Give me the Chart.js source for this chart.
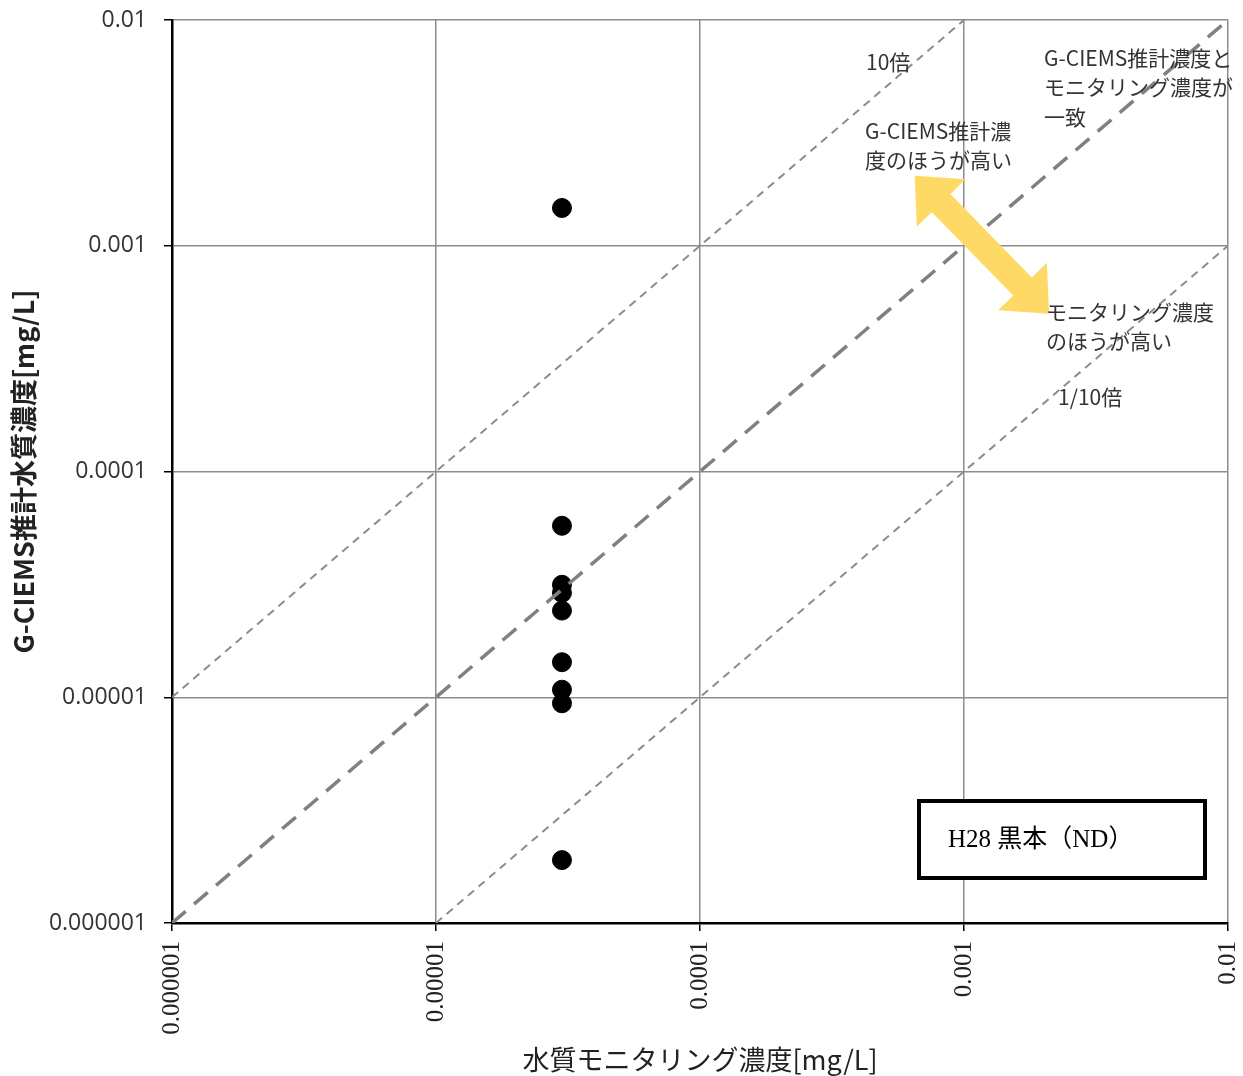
<!DOCTYPE html>
<html>
<head>
<meta charset="utf-8">
<script src="https://cdn.jsdelivr.net/npm/chart.js@4/dist/chart.umd.min.js"></script>
<style>
  html, body { margin: 0; padding: 0; background: #fff; }
  #wrap { width: 1243px; height: 1076px; }
</style>
</head>
<body>
<div id="wrap"><canvas id="chart" width="1243" height="1076"></canvas></div>
<script>
// measured values (mg/L)
const monitorConc = [3e-5, 3e-5, 3e-5, 3e-5, 3e-5, 3e-5, 3e-5, 3e-5, 3e-5];
const gciemsConc = [1.47e-3, 5.75e-5, 3.15e-5, 2.9e-5, 2.42e-5, 1.43e-5, 1.08e-5, 9.4e-6, 1.9e-6];

const tickValues = [1e-6, 1e-5, 1e-4, 1e-3, 1e-2];
const tickLabels = ['0.000001', '0.00001', '0.0001', '0.001', '0.01'];

// reference lines: y = 10x, y = x, y = x/10
const line10x = [{ x: 1e-6, y: 1e-5 }, { x: 1e-3, y: 1e-2 }];
const line1x = [{ x: 1e-6, y: 1e-6 }, { x: 1e-2, y: 1e-2 }];
const line01x = [{ x: 1e-5, y: 1e-6 }, { x: 1e-2, y: 1e-3 }];

// double arrow ends (data coords)
const arrowEnds = [{ x: 6.5e-4, y: 2.04e-3 }, { x: 2.1e-3, y: 5.0e-4 }];

const points = monitorConc.map((x, i) => ({ x: x, y: gciemsConc[i] }));

const jpFont = '"Noto Sans CJK JP", "Noto Sans", sans-serif';

const decadeTicks = (scale) => {
    scale.ticks = tickValues.map(v => ({ value: v }));
};
const tickText = (value) => {
    const i = tickValues.findIndex(v => Math.abs(v - value) / v < 1e-6);
    return i >= 0 ? tickLabels[i] : '';
};

const annotations = {
    id: 'annotations',
    afterDatasetsDraw(chart) {
        const ctx = chart.ctx;
        const xs = chart.scales.x, ys = chart.scales.y;

        // yellow double arrow
        const p1 = { x: xs.getPixelForValue(arrowEnds[0].x), y: ys.getPixelForValue(arrowEnds[0].y) };
        const p2 = { x: xs.getPixelForValue(arrowEnds[1].x), y: ys.getPixelForValue(arrowEnds[1].y) };
        const dx = p2.x - p1.x, dy = p2.y - p1.y;
        const len = Math.sqrt(dx * dx + dy * dy);
        const ux = dx / len, uy = dy / len;
        const nx = -uy, ny = ux;
        const headLen = 38, headW = 34, shaftW = 13;
        const pt = (base, a, b) => [base.x + ux * a + nx * b, base.y + uy * a + ny * b];
        const poly = [
            pt(p1, 0, 0),
            pt(p1, headLen, headW),
            pt(p1, headLen, shaftW),
            pt(p2, -headLen, shaftW),
            pt(p2, -headLen, headW),
            pt(p2, 0, 0),
            pt(p2, -headLen, -headW),
            pt(p2, -headLen, -shaftW),
            pt(p1, headLen, -shaftW),
            pt(p1, headLen, -headW)
        ];
        ctx.save();
        ctx.beginPath();
        poly.forEach((p, i) => i ? ctx.lineTo(p[0], p[1]) : ctx.moveTo(p[0], p[1]));
        ctx.closePath();
        ctx.fillStyle = '#FFD966';
        ctx.fill();

        // texts
        ctx.fillStyle = '#333';
        ctx.font = '21px ' + jpFont;
        ctx.textBaseline = 'middle';
        ctx.textAlign = 'left';
        ctx.fillText('10倍', 866, 62);
        ctx.fillText('G-CIEMS推計濃度と', 1044, 58);
        ctx.fillText('モニタリング濃度が', 1044, 87);
        ctx.fillText('一致', 1044, 117);
        ctx.fillText('G-CIEMS推計濃', 865, 131);
        ctx.fillText('度のほうが高い', 865, 160);
        ctx.fillText('モニタリング濃度', 1046, 312);
        ctx.fillText('のほうが高い', 1046, 341);
        ctx.fillText('1/10倍', 1058, 397);

        // label box
        ctx.fillStyle = '#fff';
        ctx.fillRect(919, 801, 286, 77);
        ctx.strokeStyle = '#000';
        ctx.lineWidth = 4;
        ctx.strokeRect(919, 801, 286, 77);
        ctx.fillStyle = '#000';
        ctx.font = '25px "Liberation Serif", "Noto Sans CJK JP", serif';
        ctx.fillText('H28 黒本（ND）', 948, 840);
        ctx.restore();
    }
};

new Chart(document.getElementById('chart'), {
    type: 'scatter',
    data: {
        datasets: [
            {
                label: '10倍',
                type: 'line',
                data: line10x,
                borderColor: '#8c8c8c',
                borderWidth: 2,
                borderDash: [8, 6],
                pointRadius: 0,
                fill: false
            },
            {
                label: '一致',
                type: 'line',
                data: line1x,
                borderColor: '#808080',
                borderWidth: 3.5,
                borderDash: [18, 11],
                pointRadius: 0,
                fill: false
            },
            {
                label: '1/10倍',
                type: 'line',
                data: line01x,
                borderColor: '#8c8c8c',
                borderWidth: 2,
                borderDash: [8, 6],
                pointRadius: 0,
                fill: false
            },
            {
                label: 'H28 黒本',
                data: points,
                backgroundColor: '#000',
                borderColor: '#000',
                pointRadius: 9.5,
                pointHoverRadius: 9.5
            }
        ]
    },
    options: {
        responsive: false,
        animation: false,
        layout: { padding: { left: 0, top: 20, right: 15, bottom: 0 } },
        plugins: {
            legend: { display: false },
            tooltip: { enabled: false }
        },
        scales: {
            x: {
                type: 'logarithmic',
                min: 1e-6,
                max: 1e-2,
                afterBuildTicks: decadeTicks,
                afterFit: (scale) => {
                    scale.height = 153;
                    scale.paddingLeft = 0;
                    scale.paddingRight = 0;
                },
                border: { color: '#000', width: 2.5 },
                grid: { color: '#8c8c8c', lineWidth: 1.5, tickLength: 8, tickColor: '#000' },
                ticks: {
                    minRotation: 90,
                    maxRotation: 90,
                    padding: 10,
                    color: '#222',
                    font: { family: '"Liberation Serif", serif', size: 25 },
                    callback: tickText
                },
                title: {
                    display: true,
                    text: '水質モニタリング濃度[mg/L]',
                    color: '#222',
                    font: { family: jpFont, size: 27 },
                    padding: { top: 0, bottom: 0 },
                    align: 'center'
                }
            },
            y: {
                type: 'logarithmic',
                min: 1e-6,
                max: 1e-2,
                afterBuildTicks: decadeTicks,
                afterFit: (scale) => {
                    scale.width = 172;
                    scale.paddingTop = 0;
                    scale.paddingBottom = 0;
                },
                border: { color: '#000', width: 2.5 },
                grid: { color: '#8c8c8c', lineWidth: 1.5, tickLength: 8, tickColor: '#000' },
                ticks: {
                    padding: 17,
                    color: '#333',
                    font: { family: '"Open Sans", sans-serif', size: 23 },
                    callback: tickText
                },
                title: {
                    display: true,
                    text: 'G-CIEMS推計水質濃度[mg/L]',
                    color: '#222',
                    font: { family: jpFont, size: 27, weight: 'bold' },
                    padding: { top: 8, bottom: 0 }
                }
            }
        }
    },
    plugins: [annotations]
});
</script>
</body>
</html>
